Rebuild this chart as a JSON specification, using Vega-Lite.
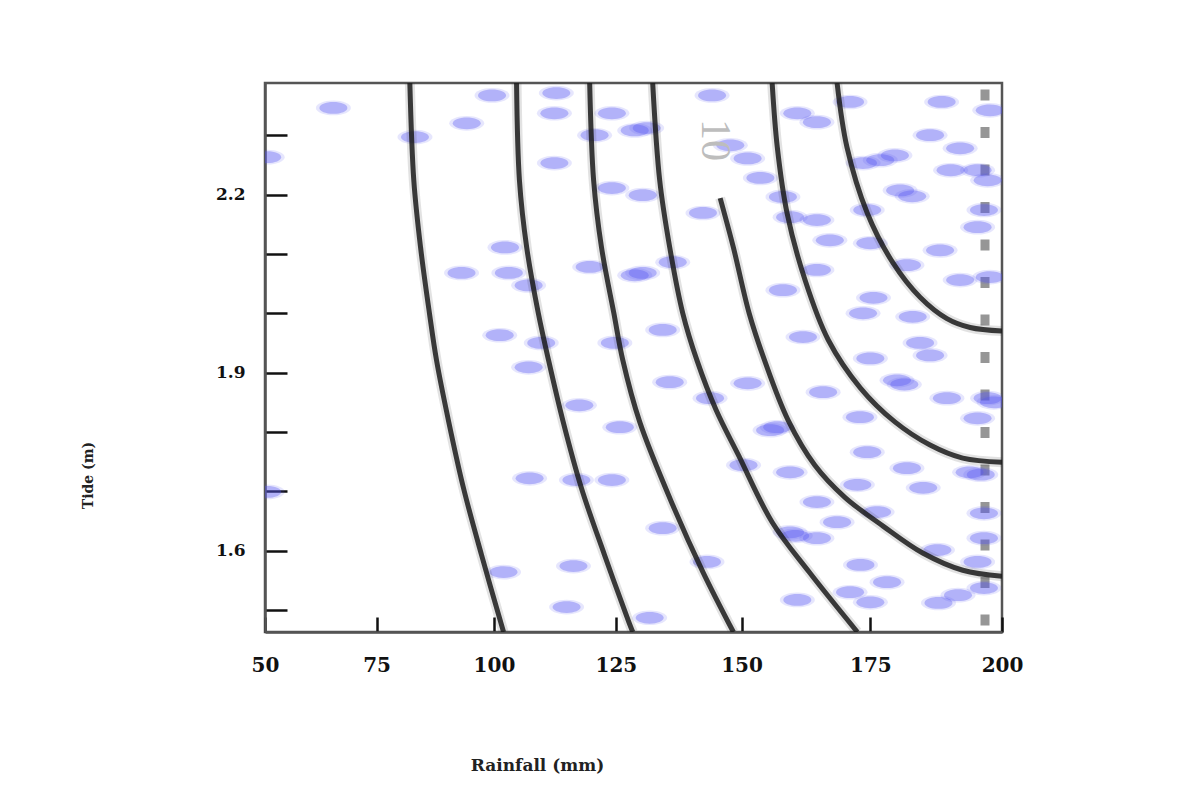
{
  "$schema": "https://vega.github.io/schema/vega-lite/v6.json",
  "width": 737,
  "height": 549,
  "autosize": "none",
  "padding": {"left": 265, "top": 83, "right": 182, "bottom": 171},
  "background": "white",
  "config": {
    "view": {"stroke": "#555", "strokeWidth": 2.5},
    "axis": {"grid": false}
  },
  "datasets": {
    "pts": [
      {"x":65.5,"y":2.346},{"x":99.6,"y":2.367},{"x":112.9,"y":2.371},{"x":94.3,"y":2.320},{"x":83.3,"y":2.297},
      {"x":112.5,"y":2.337},{"x":124.2,"y":2.337},{"x":120.7,"y":2.300},{"x":128.8,"y":2.308},{"x":112.5,"y":2.253},
      {"x":124.2,"y":2.211},{"x":102.3,"y":2.111},{"x":93.2,"y":2.068},{"x":103.1,"y":2.068},{"x":107.2,"y":2.047},
      {"x":119.7,"y":2.078},{"x":128.8,"y":2.064},{"x":101.2,"y":1.963},{"x":109.8,"y":1.950},{"x":124.8,"y":1.950},
      {"x":50.5,"y":2.263},{"x":107.2,"y":1.909},{"x":117.6,"y":1.845},{"x":125.8,"y":1.808},{"x":107.4,"y":1.722},
      {"x":117.0,"y":1.719},{"x":124.2,"y":1.719},{"x":102.0,"y":1.564},{"x":116.4,"y":1.574},{"x":115.0,"y":1.505},
      {"x":50.5,"y":1.699},{"x":144.2,"y":2.367},{"x":131.2,"y":2.312},{"x":147.8,"y":2.283},{"x":151.2,"y":2.261},
      {"x":153.7,"y":2.228},{"x":130.4,"y":2.199},{"x":142.4,"y":2.169},{"x":158.1,"y":2.196},{"x":160.9,"y":2.337},
      {"x":164.7,"y":2.322},{"x":171.1,"y":2.356},{"x":188.6,"y":2.356},{"x":197.7,"y":2.342},{"x":186.4,"y":2.300},
      {"x":192.1,"y":2.278},{"x":176.9,"y":2.258},{"x":179.7,"y":2.266},{"x":173.6,"y":2.253},{"x":190.3,"y":2.241},
      {"x":195.4,"y":2.241},{"x":197.3,"y":2.224},{"x":180.7,"y":2.207},{"x":183.0,"y":2.197},{"x":196.6,"y":2.174},
      {"x":174.4,"y":2.174},{"x":159.5,"y":2.162},{"x":164.7,"y":2.157},{"x":195.4,"y":2.145},{"x":167.2,"y":2.123},
      {"x":175.0,"y":2.118},{"x":188.3,"y":2.106},{"x":136.4,"y":2.086},{"x":130.4,"y":2.068},{"x":164.7,"y":2.073},
      {"x":182.0,"y":2.081},{"x":192.1,"y":2.056},{"x":158.1,"y":2.039},{"x":175.6,"y":2.026},{"x":173.6,"y":2.000},
      {"x":183.1,"y":1.994},{"x":134.4,"y":1.972},{"x":162.0,"y":1.960},{"x":184.5,"y":1.950},{"x":197.7,"y":2.061},
      {"x":135.8,"y":1.884},{"x":151.2,"y":1.882},{"x":143.8,"y":1.857},{"x":165.9,"y":1.867},{"x":180.1,"y":1.887},
      {"x":181.5,"y":1.880},{"x":175.0,"y":1.924},{"x":186.4,"y":1.929},{"x":189.6,"y":1.857},{"x":197.3,"y":1.857},
      {"x":198.5,"y":1.850},{"x":195.4,"y":1.823},{"x":173.0,"y":1.825},{"x":155.6,"y":1.803},{"x":157.0,"y":1.808},
      {"x":174.4,"y":1.766},{"x":159.5,"y":1.732},{"x":150.4,"y":1.744},{"x":182.0,"y":1.739},{"x":193.9,"y":1.732},
      {"x":196.0,"y":1.728},{"x":185.1,"y":1.706},{"x":172.5,"y":1.711},{"x":164.7,"y":1.682},{"x":176.3,"y":1.665},
      {"x":168.6,"y":1.648},{"x":159.5,"y":1.631},{"x":160.5,"y":1.625},{"x":164.7,"y":1.621},{"x":134.4,"y":1.638},
      {"x":196.6,"y":1.663},{"x":196.6,"y":1.621},{"x":187.8,"y":1.601},{"x":143.2,"y":1.581},{"x":173.1,"y":1.576},
      {"x":178.2,"y":1.547},{"x":195.4,"y":1.581},{"x":171.1,"y":1.530},{"x":160.9,"y":1.517},{"x":175.0,"y":1.513},
      {"x":191.7,"y":1.525},{"x":188.0,"y":1.512},{"x":131.8,"y":1.487},{"x":196.6,"y":1.537}
    ],
    "cont": [
      {"c":"a","x":82.2,"y":2.388},{"c":"a","x":83.05,"y":2.224},{"c":"a","x":84.5,"y":2.111},{"c":"a","x":86.4,"y":2.0},
      {"c":"a","x":87.9,"y":1.921},{"c":"a","x":90.5,"y":1.817},{"c":"a","x":93.6,"y":1.706},{"c":"a","x":97.4,"y":1.593},
      {"c":"a","x":102.0,"y":1.463},
      {"c":"b","x":104.7,"y":2.388},{"c":"b","x":105.3,"y":2.224},{"c":"b","x":106.8,"y":2.111},{"c":"b","x":109.2,"y":2.0},
      {"c":"b","x":111.3,"y":1.921},{"c":"b","x":114.3,"y":1.817},{"c":"b","x":118.0,"y":1.706},{"c":"b","x":122.7,"y":1.593},
      {"c":"b","x":127.6,"y":1.480},{"c":"b","x":128.4,"y":1.463},
      {"c":"c","x":119.7,"y":2.388},{"c":"c","x":120.5,"y":2.224},{"c":"c","x":122.1,"y":2.111},{"c":"c","x":124.6,"y":2.0},
      {"c":"c","x":126.4,"y":1.921},{"c":"c","x":129.8,"y":1.817},{"c":"c","x":136.4,"y":1.677},{"c":"c","x":142.4,"y":1.564},
      {"c":"c","x":148.4,"y":1.463},
      {"c":"d","x":132.4,"y":2.388},{"c":"d","x":133.8,"y":2.224},{"c":"d","x":135.8,"y":2.111},{"c":"d","x":138.4,"y":2.0},
      {"c":"d","x":141.2,"y":1.921},{"c":"d","x":145.0,"y":1.837},{"c":"d","x":149.4,"y":1.761},{"c":"d","x":156.0,"y":1.648},
      {"c":"d","x":163.2,"y":1.564},{"c":"d","x":172.5,"y":1.463},
      {"c":"e","x":145.8,"y":2.194},{"c":"e","x":148.4,"y":2.111},{"c":"e","x":151.5,"y":2.0},{"c":"e","x":154.5,"y":1.921},
      {"c":"e","x":159.1,"y":1.820},{"c":"e","x":164.3,"y":1.744},{"c":"e","x":170.1,"y":1.690},{"c":"e","x":177.5,"y":1.641},
      {"c":"e","x":185.0,"y":1.596},{"c":"e","x":192.6,"y":1.567},{"c":"e","x":200,"y":1.557},
      {"c":"f","x":156.0,"y":2.388},{"c":"f","x":157.0,"y":2.280},{"c":"f","x":158.9,"y":2.169},{"c":"f","x":162.4,"y":2.056},
      {"c":"f","x":166.9,"y":1.955},{"c":"f","x":173.1,"y":1.874},{"c":"f","x":179.7,"y":1.817},{"c":"f","x":186.4,"y":1.778},
      {"c":"f","x":192.6,"y":1.756},{"c":"f","x":200,"y":1.749},
      {"c":"g","x":168.6,"y":2.388},{"c":"g","x":170.5,"y":2.280},{"c":"g","x":174.4,"y":2.169},{"c":"g","x":179.4,"y":2.084},
      {"c":"g","x":184.5,"y":2.027},{"c":"g","x":189.6,"y":1.991},{"c":"g","x":194.0,"y":1.976},{"c":"g","x":200,"y":1.970}
    ],
    "lab": [{"t":"10","x":144.8,"y":2.292}]
  },
  "encoding": {
    "x": {
      "field": "x", "type": "quantitative",
      "scale": {"type": "pow", "exponent": 1.15, "domain": [50, 200], "nice": false, "zero": false},
      "axis": {
        "values": [50, 75, 100, 125, 150, 175, 200],
        "tickSize": -15, "tickWidth": 2.5, "tickColor": "#111",
        "domainColor": "#555", "domainWidth": 2.5,
        "labelFont": "DejaVu Serif", "labelFontWeight": "bold", "labelFontSize": 20, "labelColor": "#111",
        "labelPadding": 38, "labelFlush": false,
        "title": "Rainfall (mm)", "titleFont": "DejaVu Serif", "titleFontWeight": "bold", "titleFontSize": 17,
        "titleColor": "#222", "titleX": 272, "titleY": 133, "titleBaseline": "middle", "titleAlign": "center"
      }
    },
    "y": {
      "field": "y", "type": "quantitative",
      "scale": {"domain": [1.463, 2.388], "nice": false, "zero": false},
      "axis": {
        "values": [1.5, 1.6, 1.7, 1.8, 1.9, 2.0, 2.1, 2.2, 2.3],
        "labelExpr": "(datum.value == 1.6 || datum.value == 1.9 || datum.value == 2.2) ? format(datum.value, '.1f') : ''",
        "tickSize": -22, "tickWidth": 2.5, "tickColor": "#111",
        "domainColor": "#555", "domainWidth": 2.5,
        "labelFont": "DejaVu Serif", "labelFontWeight": "bold", "labelFontSize": 17, "labelColor": "#111",
        "labelPadding": 42,
        "title": "Tide (m)", "titleFont": "DejaVu Serif", "titleFontWeight": "bold", "titleFontSize": 14,
        "titleColor": "#222", "titleX": -177, "titleY": 392, "titleBaseline": "middle", "titleAlign": "center"
      }
    }
  },
  "layer": [
    {
      "data": {"values": [{"xr": 196.8, "lo": 1.463, "hi": 2.388}]},
      "mark": {"type": "rule", "color": "#969696", "strokeWidth": 9, "strokeDash": [11, 26.5], "strokeDashOffset": 31},
      "encoding": {
        "x": {"field": "xr", "type": "quantitative"},
        "y": {"field": "lo", "type": "quantitative"},
        "y2": {"field": "hi"}
      }
    },
    {
      "data": {"name": "pts"},
      "mark": {"type": "point", "shape": "M -1 0 A 1 0.42 0 1 0 1 0 A 1 0.42 0 1 0 -1 0 Z", "filled": true, "size": 1225, "color": "#5a5af2", "opacity": 0.15, "clip": true}
    },
    {
      "data": {"name": "pts"},
      "mark": {"type": "point", "shape": "M -1 0 A 1 0.42 0 1 0 1 0 A 1 0.42 0 1 0 -1 0 Z", "filled": true, "size": 784, "color": "#5555f0", "opacity": 0.36, "clip": true}
    },
    {
      "data": {"name": "cont"},
      "mark": {"type": "line", "color": "#333", "strokeWidth": 10, "opacity": 0.14, "interpolate": "catmull-rom", "clip": true},
      "encoding": {"detail": {"field": "c"}}
    },
    {
      "data": {"name": "cont"},
      "mark": {"type": "line", "color": "#1a1a1a", "strokeWidth": 5, "opacity": 0.85, "interpolate": "catmull-rom", "clip": true},
      "encoding": {"detail": {"field": "c"}}
    },
    {
      "data": {"name": "lab"},
      "mark": {"type": "text", "angle": 90, "font": "Liberation Serif", "fontSize": 42, "color": "#bdbdbd", "align": "center", "baseline": "middle"},
      "encoding": {"text": {"field": "t"}}
    }
  ]
}
